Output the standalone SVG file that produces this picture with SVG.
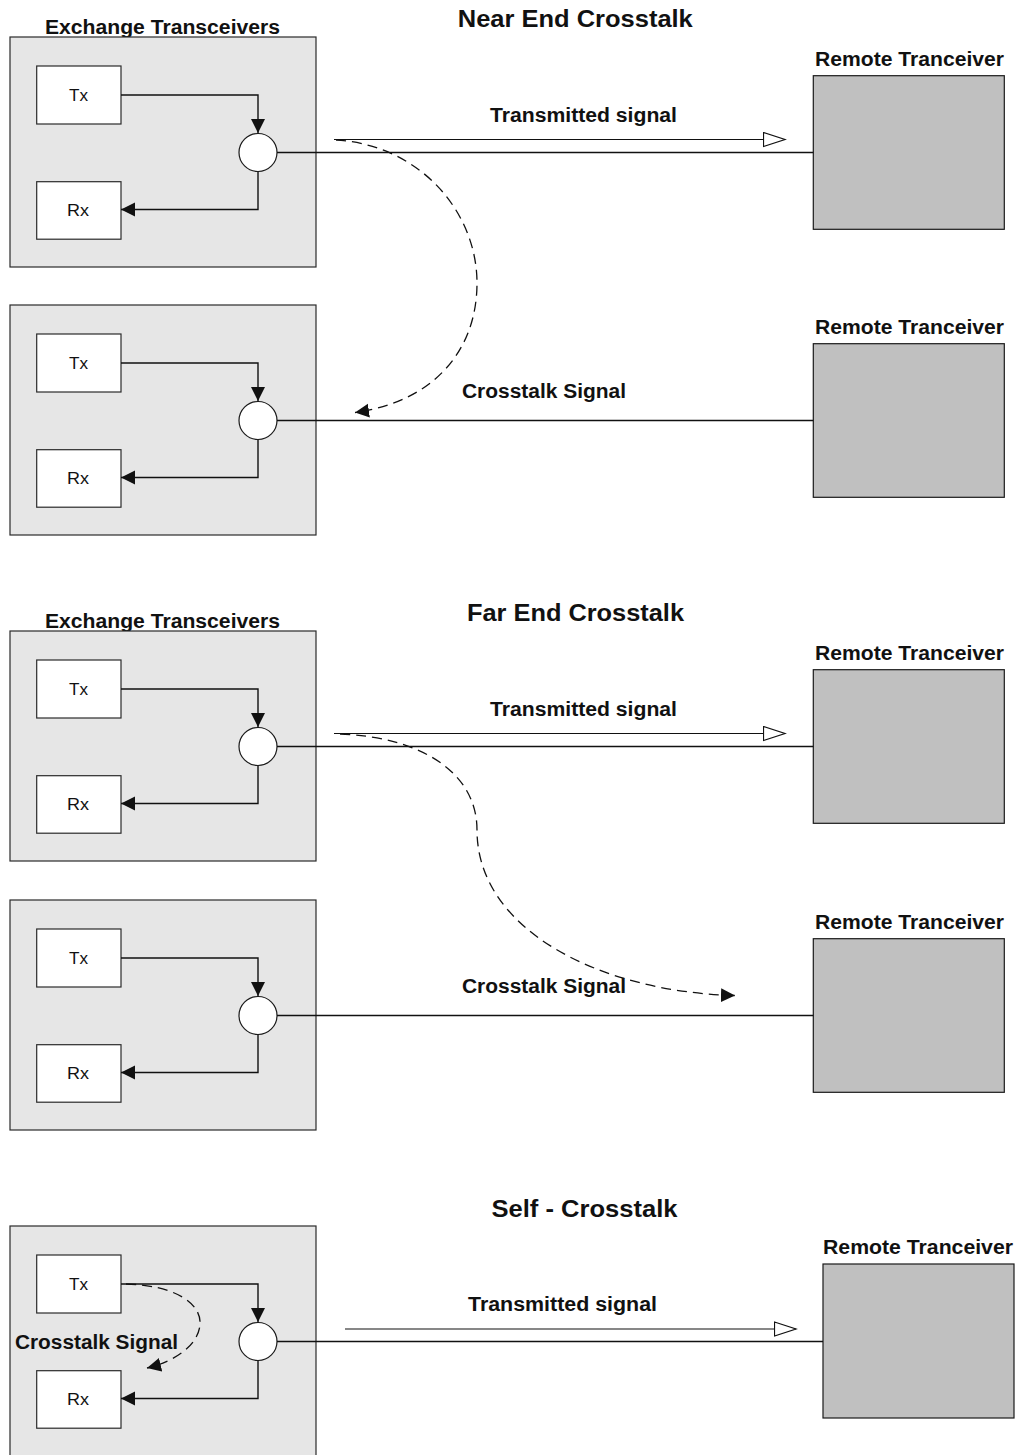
<svg xmlns="http://www.w3.org/2000/svg" width="1016" height="1455" viewBox="0 0 1016 1455">
  <style>
    .bg { fill: #ffffff; }
    .exch { fill: #e6e6e6; stroke: #2a2a2a; stroke-width: 1.2; }
    .unit { fill: #ffffff; stroke: #2a2a2a; stroke-width: 1.2; }
    .hyb { fill: #ffffff; stroke: #1a1a1a; stroke-width: 1.2; }
    .remote { fill: #c0c0c0; stroke: #1a1a1a; stroke-width: 1.2; }
    .wire { fill: none; stroke: #111111; stroke-width: 1.4; }
    .sig { fill: none; stroke: #111111; stroke-width: 1.2; }
    .xtalk { fill: none; stroke: #111111; stroke-width: 1.3; stroke-dasharray: 10 6; }
    text { font-family: "Liberation Sans", Arial, Helvetica, sans-serif; fill: #111111; text-anchor: middle; }
    .title { font-size: 23.5px; font-weight: bold; }
    .lab { font-size: 20px; font-weight: bold; }
    .ulab { font-size: 16px; }
  </style>
  <defs>
    <marker id="solidHead" markerUnits="userSpaceOnUse" markerWidth="16" markerHeight="16" viewBox="0 0 16 16" refX="14" refY="8" orient="auto">
      <path d="M0,1 L14,8 L0,15 Z" fill="#111111"/>
    </marker>
    <marker id="openHead" markerUnits="userSpaceOnUse" markerWidth="24" markerHeight="16" viewBox="0 0 24 16" refX="22.5" refY="8" orient="auto">
      <path d="M1,1 L22.5,8 L1,15 Z" fill="#ffffff" stroke="#111111" stroke-width="1.2"/>
    </marker>
    <!-- exchange transceiver block: outer box, Tx, Rx, hybrid and internal wiring -->
    <g id="exchangeBlock">
      <rect class="exch" x="10" y="37" width="306" height="230"/>
      <rect class="unit" x="36.7" y="66" width="84.3" height="58"/>
      <rect class="unit" x="36.7" y="181.7" width="84.3" height="57.5"/>
      <polyline class="wire" points="121,95 258,95 258,133" marker-end="url(#solidHead)"/>
      <polyline class="wire" points="258,171.5 258,209.5 121,209.5" marker-end="url(#solidHead)"/>
      <circle class="hyb" cx="258" cy="152.5" r="19"/>
      <text class="ulab" x="78.5" y="101" textLength="19" lengthAdjust="spacingAndGlyphs">Tx</text>
      <text class="ulab" x="78" y="216" textLength="22" lengthAdjust="spacingAndGlyphs">Rx</text>
    </g>
  </defs>

  <rect class="bg" x="0" y="0" width="1016" height="1455"/>

  <!-- section headings -->
  <g id="titles">
    <text class="title" x="575.3" y="27" textLength="235" lengthAdjust="spacingAndGlyphs">Near End Crosstalk</text>
    <text class="title" x="575.5" y="621" textLength="217" lengthAdjust="spacingAndGlyphs">Far End Crosstalk</text>
    <text class="title" x="584.5" y="1217" textLength="186" lengthAdjust="spacingAndGlyphs">Self - Crosstalk</text>
  </g>

  <!-- near end crosstalk -->
  <g id="exchange-near-1">
    <text class="lab" x="162.5" y="33.5" textLength="235" lengthAdjust="spacingAndGlyphs">Exchange Transceivers</text>
    <use href="#exchangeBlock"/>
  </g>
  <g id="remote-near-1">
    <text class="lab" x="909.5" y="65.5" textLength="189" lengthAdjust="spacingAndGlyphs">Remote Tranceiver</text>
    <rect class="remote" x="813.3" y="75.7" width="191" height="153.6"/>
  </g>
  <g id="exchange-near-2">
    <use href="#exchangeBlock" y="268"/>
  </g>
  <g id="remote-near-2">
    <text class="lab" x="909.5" y="333.5" textLength="189" lengthAdjust="spacingAndGlyphs">Remote Tranceiver</text>
    <rect class="remote" x="813.3" y="343.7" width="191" height="153.6"/>
  </g>

  <!-- far end crosstalk -->
  <g id="exchange-far-1">
    <text class="lab" x="162.5" y="627.5" textLength="235" lengthAdjust="spacingAndGlyphs">Exchange Transceivers</text>
    <use href="#exchangeBlock" y="594"/>
  </g>
  <g id="remote-far-1">
    <text class="lab" x="909.5" y="659.5" textLength="189" lengthAdjust="spacingAndGlyphs">Remote Tranceiver</text>
    <rect class="remote" x="813.3" y="669.7" width="191" height="153.6"/>
  </g>
  <g id="exchange-far-2">
    <use href="#exchangeBlock" y="863"/>
  </g>
  <g id="remote-far-2">
    <text class="lab" x="909.5" y="928.5" textLength="189" lengthAdjust="spacingAndGlyphs">Remote Tranceiver</text>
    <rect class="remote" x="813.3" y="938.7" width="191" height="153.6"/>
  </g>

  <!-- self crosstalk -->
  <g id="exchange-self">
    <use href="#exchangeBlock" y="1189"/>
  </g>
  <g id="remote-self">
    <text class="lab" x="918" y="1253.5" textLength="190" lengthAdjust="spacingAndGlyphs">Remote Tranceiver</text>
    <rect class="remote" x="823" y="1264" width="191" height="154"/>
  </g>

  <!-- line wiring, transmitted signals and crosstalk paths -->
  <g id="connectors">
    <line class="wire" x1="277" y1="152.5" x2="813.3" y2="152.5"/>
    <line class="wire" x1="277" y1="420.5" x2="813.3" y2="420.5"/>
    <line class="wire" x1="277" y1="746.5" x2="813.3" y2="746.5"/>
    <line class="wire" x1="277" y1="1015.5" x2="813.3" y2="1015.5"/>
    <line class="wire" x1="277" y1="1341.5" x2="823" y2="1341.5"/>

    <line class="sig" x1="334" y1="139.5" x2="785" y2="139.5" marker-end="url(#openHead)"/>
    <line class="sig" x1="334" y1="733.5" x2="785" y2="733.5" marker-end="url(#openHead)"/>
    <line class="sig" x1="345" y1="1329" x2="796" y2="1329" marker-end="url(#openHead)"/>

    <path class="xtalk" d="M336,140 C420,145 477,212 477,283 C477,352 432,402 355,412.5" marker-end="url(#solidHead)"/>
    <path class="xtalk" d="M340,734 C420,737 477,772 477,830 C477,930 600,992 735,995.5" marker-end="url(#solidHead)"/>
    <path class="xtalk" d="M126,1284 C172,1285 202,1302 200,1325 C198,1345 176,1361 147,1368" marker-end="url(#solidHead)"/>
  </g>

  <!-- signal labels -->
  <g id="labels">
    <text class="lab" x="583.5" y="121.5" textLength="187" lengthAdjust="spacingAndGlyphs">Transmitted signal</text>
    <text class="lab" x="544" y="398" textLength="164" lengthAdjust="spacingAndGlyphs">Crosstalk Signal</text>
    <text class="lab" x="583.5" y="715.5" textLength="187" lengthAdjust="spacingAndGlyphs">Transmitted signal</text>
    <text class="lab" x="544" y="992.5" textLength="164" lengthAdjust="spacingAndGlyphs">Crosstalk Signal</text>
    <text class="lab" x="562.5" y="1310.5" textLength="189" lengthAdjust="spacingAndGlyphs">Transmitted signal</text>
    <text class="lab" x="96.5" y="1348.5" textLength="163" lengthAdjust="spacingAndGlyphs">Crosstalk Signal</text>
  </g>
</svg>
